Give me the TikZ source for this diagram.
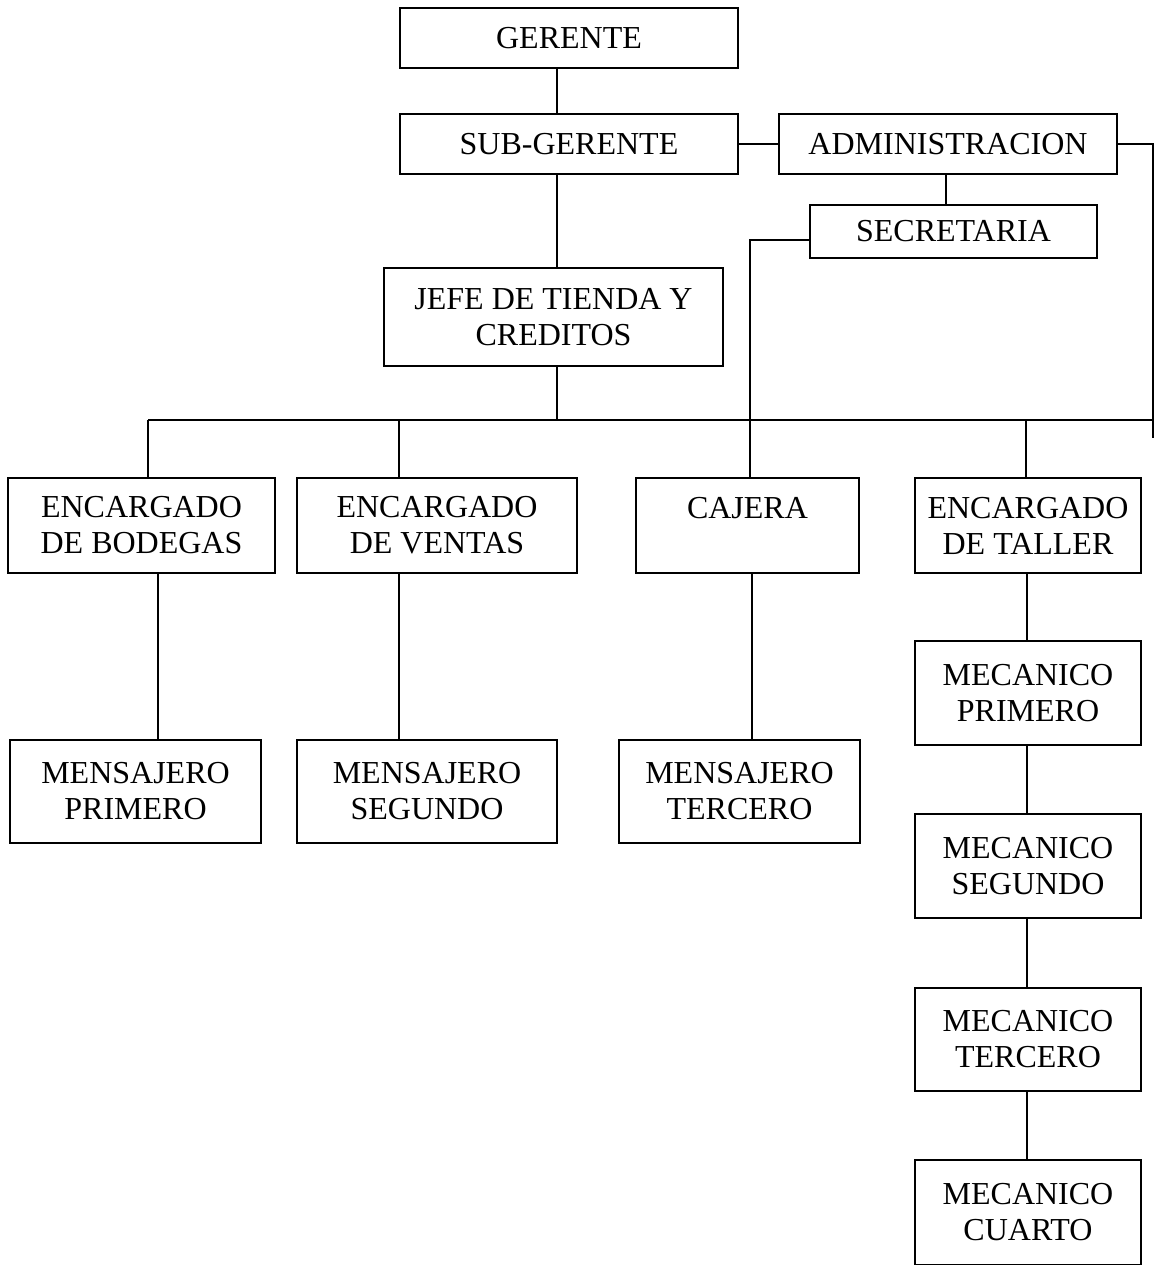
\documentclass[tikz,border=0pt]{standalone}
\usepackage{fontspec}
\setmainfont{Liberation Serif}
\begin{document}
\begin{tikzpicture}[x=0.5pt,y=-0.5pt,
  box/.style={draw, line width=1pt, inner sep=0pt, align=center,
    font=\fontsize{16}{18}\selectfont},
  conn/.style={line width=1pt}]
\useasboundingbox (0,0) rectangle (1162,1265);
% nodes
\node[box, minimum width=169pt, minimum height=30pt] (ger) at (569,38) {GERENTE};
\node[box, minimum width=169pt, minimum height=30pt] (sub) at (569,144) {SUB-GERENTE};
\node[box, minimum width=169pt, minimum height=30pt] (adm) at (948,144) {ADMINISTRACION};
\node[box, minimum width=143.5pt, minimum height=26.5pt] (sec) at (953.5,231.5) {SECRETARIA};
\node[box, minimum width=169.5pt, minimum height=49pt] (jefe) at (553.5,317) {JEFE DE TIENDA Y\\CREDITOS};
\node[box, minimum width=133.5pt, minimum height=47.5pt] (eb) at (141.5,525.5) {ENCARGADO\\DE BODEGAS};
\node[box, minimum width=140pt, minimum height=47.5pt] (ev) at (437,525.5) {ENCARGADO\\DE VENTAS};
\node[box, minimum width=111.5pt, minimum height=47.5pt] (caj) at (747.5,525.5) {CAJERA\\\mbox{}};
\node[box, minimum width=113pt, minimum height=47.5pt] (et) at (1028,525.5) {ENCARGADO\\DE TALLER};
\node[box, minimum width=125.5pt, minimum height=51.5pt] (mp) at (135.5,791.5) {MENSAJERO\\PRIMERO};
\node[box, minimum width=130pt, minimum height=51.5pt] (ms) at (427,791.5) {MENSAJERO\\SEGUNDO};
\node[box, minimum width=120.5pt, minimum height=51.5pt] (mt) at (739.5,791.5) {MENSAJERO\\TERCERO};
\node[box, minimum width=113pt, minimum height=52pt] (m1) at (1028,693) {MECANICO\\PRIMERO};
\node[box, minimum width=113pt, minimum height=52pt] (m2) at (1028,866) {MECANICO\\SEGUNDO};
\node[box, minimum width=113pt, minimum height=51.5pt] (m3) at (1028,1039.5) {MECANICO\\TERCERO};
\node[box, minimum width=113pt, minimum height=52.5pt] (m4) at (1028,1212.5) {MECANICO\\CUARTO};
% helper coordinates
\coordinate (x148) at (148,0);
\coordinate (x158) at (158,0);
\coordinate (x399) at (399,0);
\coordinate (x557) at (557,0);
\coordinate (x750) at (750,0);
\coordinate (x752) at (752,0);
\coordinate (x946) at (946,0);
\coordinate (x1026) at (1026,0);
\coordinate (x1027) at (1027,0);
\coordinate (bl) at (148,420);
\coordinate (bm) at (557,420);
\coordinate (bv) at (399,420);
\coordinate (bt) at (1026,420);
\coordinate (br) at (1153,420);
\coordinate (rt) at (1153,438);
% connectors
\draw[conn] (ger.south -| x557) -- (sub.north -| x557);
\draw[conn] (sub.east) -- (adm.west);
\draw[conn] (adm.south -| x946) -- (sec.north -| x946);
\draw[conn] (adm.east) -| (rt);
\draw[conn] ([yshift=-4.25pt]sec.west) -| (caj.north -| x750);
\draw[conn] (sub.south -| x557) -- (jefe.north -| x557);
\draw[conn] (jefe.south -| x557) -- (bm);
\draw[conn] (bl) -- (br);
\draw[conn] (bl) -- (eb.north -| x148);
\draw[conn] (bv) -- (ev.north -| x399);
\draw[conn] (bt) -- (et.north -| x1026);
\draw[conn] (eb.south -| x158) -- (mp.north -| x158);
\draw[conn] (ev.south -| x399) -- (ms.north -| x399);
\draw[conn] (caj.south -| x752) -- (mt.north -| x752);
\draw[conn] (et.south -| x1027) -- (m1.north -| x1027);
\draw[conn] (m1.south -| x1027) -- (m2.north -| x1027);
\draw[conn] (m2.south -| x1027) -- (m3.north -| x1027);
\draw[conn] (m3.south -| x1027) -- (m4.north -| x1027);
\end{tikzpicture}
\end{document}
